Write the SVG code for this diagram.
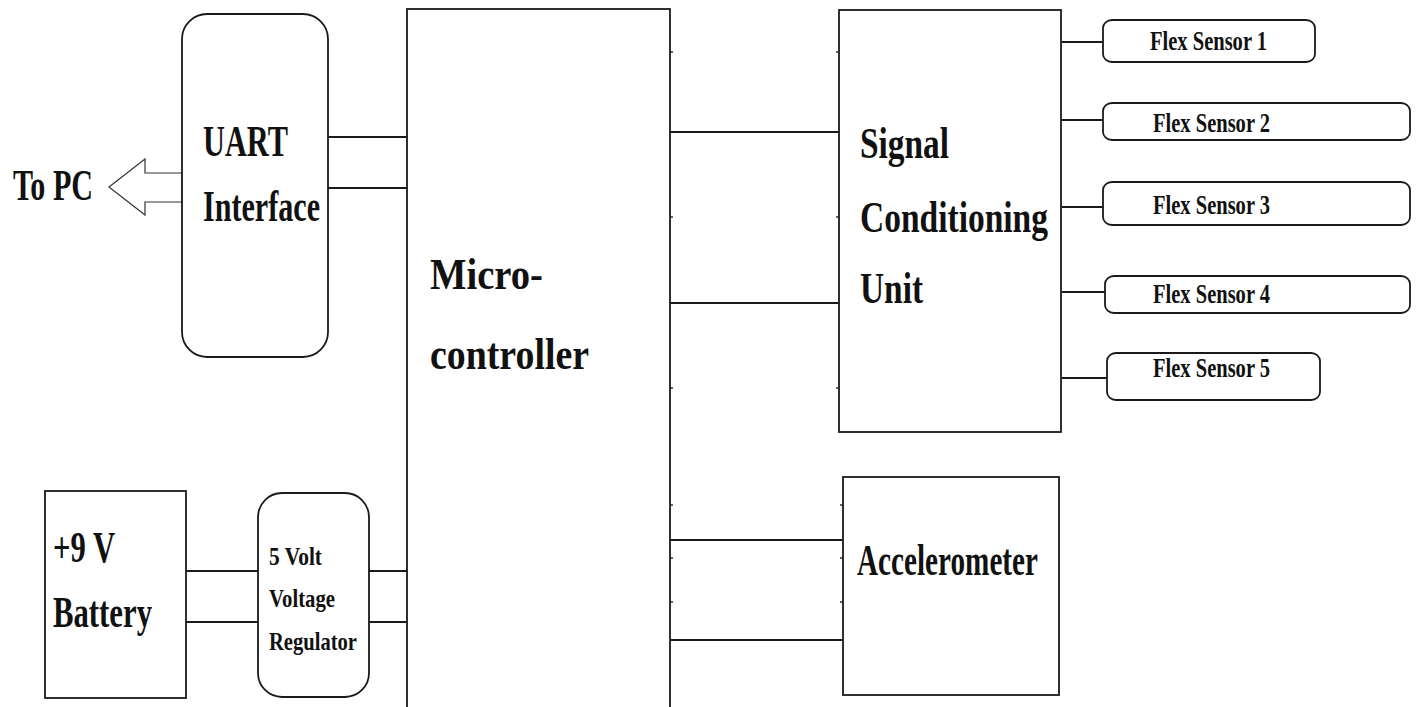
<svg xmlns="http://www.w3.org/2000/svg" width="1417" height="707" viewBox="0 0 1417 707">
<style>
.box{fill:#fff;stroke:#1a1a1a;stroke-width:1.8}
.ln{stroke:#1a1a1a;stroke-width:1.8;fill:none}
.tk{stroke:#333;stroke-width:1.5}
.t{font-family:"Liberation Serif","Times New Roman",serif;font-weight:bold;fill:#111}
.big{font-size:45px}
.mid{font-size:27px}
.sm{font-size:26px}
</style>
<rect width="1417" height="707" fill="#fff"/>
<g id="connectors">
<line class="ln" x1="328" y1="137" x2="407" y2="137"/>
<line class="ln" x1="328" y1="188" x2="407" y2="188"/>
<line class="ln" x1="186" y1="571" x2="258" y2="571"/>
<line class="ln" x1="186" y1="622" x2="258" y2="622"/>
<line class="ln" x1="369" y1="571" x2="407" y2="571"/>
<line class="ln" x1="369" y1="622" x2="407" y2="622"/>
<line class="ln" x1="670" y1="132" x2="839" y2="132"/>
<line class="ln" x1="670" y1="303" x2="839" y2="303"/>
<line class="ln" x1="670" y1="540" x2="843" y2="540"/>
<line class="ln" x1="670" y1="640" x2="843" y2="640"/>
<line class="ln" x1="1062" y1="42" x2="1103" y2="42"/>
<line class="ln" x1="1062" y1="120" x2="1103" y2="120"/>
<line class="ln" x1="1062" y1="207" x2="1103" y2="207"/>
<line class="ln" x1="1062" y1="292" x2="1105" y2="292"/>
<line class="ln" x1="1062" y1="378" x2="1107" y2="378"/>
<polygon id="to-pc-arrow" points="109,187 145,159 145,173 182,173 182,202 145,202 145,215" fill="#fff" stroke="#333" stroke-width="1.2"/>
<g id="ticks">
<line class="tk" x1="670" y1="52" x2="673" y2="52"/>
<line class="tk" x1="670" y1="217" x2="673" y2="217"/>
<line class="tk" x1="670" y1="388" x2="673" y2="388"/>
<line class="tk" x1="670" y1="505" x2="673" y2="505"/>
<line class="tk" x1="670" y1="558" x2="673" y2="558"/>
<line class="tk" x1="670" y1="602" x2="673" y2="602"/>
<line class="tk" x1="836" y1="52" x2="839" y2="52"/>
<line class="tk" x1="836" y1="217" x2="839" y2="217"/>
<line class="tk" x1="836" y1="388" x2="839" y2="388"/>
<line class="tk" x1="840" y1="505" x2="843" y2="505"/>
<line class="tk" x1="840" y1="558" x2="843" y2="558"/>
<line class="tk" x1="840" y1="602" x2="843" y2="602"/>
</g>
</g>
<g id="to-pc">
<text class="t big" x="13" y="200" textLength="80" lengthAdjust="spacingAndGlyphs">To PC</text>
</g>
<g id="uart">
<rect class="box" x="182" y="14" width="146" height="343" rx="25" ry="25"/>
<text class="t big" x="203" y="156" textLength="85" lengthAdjust="spacingAndGlyphs">UART</text>
<text class="t big" x="203" y="221" textLength="117" lengthAdjust="spacingAndGlyphs">Interface</text>
</g>
<g id="microcontroller">
<rect class="box" x="407" y="9" width="263" height="710"/>
<text class="t big" x="430" y="289" font-size="46" textLength="113" lengthAdjust="spacingAndGlyphs">Micro-</text>
<text class="t big" x="430" y="369" font-size="46" textLength="159" lengthAdjust="spacingAndGlyphs">controller</text>
</g>
<g id="signal-conditioning">
<rect class="box" x="839" y="10" width="222" height="422"/>
<text class="t big" x="860" y="158" textLength="89" lengthAdjust="spacingAndGlyphs">Signal</text>
<text class="t big" x="860" y="232" textLength="188" lengthAdjust="spacingAndGlyphs">Conditioning</text>
<text class="t big" x="860" y="303" textLength="63" lengthAdjust="spacingAndGlyphs">Unit</text>
</g>
<g id="accelerometer">
<rect class="box" x="843" y="477" width="216" height="218"/>
<text class="t big" x="857" y="575" textLength="181" lengthAdjust="spacingAndGlyphs">Accelerometer</text>
</g>
<g id="battery">
<rect class="box" x="45" y="491" width="141" height="207"/>
<text class="t big" x="53" y="562" textLength="62" lengthAdjust="spacingAndGlyphs">+9 V</text>
<text class="t big" x="53" y="627" textLength="99" lengthAdjust="spacingAndGlyphs">Battery</text>
</g>
<g id="regulator">
<rect class="box" x="258" y="493" width="111" height="204" rx="24" ry="24"/>
<text class="t sm" x="269" y="565" textLength="53" lengthAdjust="spacingAndGlyphs">5 Volt</text>
<text class="t sm" x="269" y="607" textLength="66" lengthAdjust="spacingAndGlyphs">Voltage</text>
<text class="t sm" x="269" y="650" textLength="88" lengthAdjust="spacingAndGlyphs">Regulator</text>
</g>
<g id="flex1">
<rect class="box" x="1103" y="20" width="212" height="42" rx="9" ry="8"/>
<text class="t mid" x="1150" y="50" textLength="117" lengthAdjust="spacingAndGlyphs">Flex Sensor 1</text>
</g>
<g id="flex2">
<rect class="box" x="1103" y="103" width="307" height="37" rx="9" ry="8"/>
<text class="t mid" x="1153" y="132" textLength="117" lengthAdjust="spacingAndGlyphs">Flex Sensor 2</text>
</g>
<g id="flex3">
<rect class="box" x="1103" y="182" width="307" height="43" rx="9" ry="8"/>
<text class="t mid" x="1153" y="214" textLength="117" lengthAdjust="spacingAndGlyphs">Flex Sensor 3</text>
</g>
<g id="flex4">
<rect class="box" x="1105" y="276" width="305" height="37" rx="9" ry="8"/>
<text class="t mid" x="1153" y="303" textLength="117" lengthAdjust="spacingAndGlyphs">Flex Sensor 4</text>
</g>
<g id="flex5">
<rect class="box" x="1107" y="353" width="213" height="47" rx="9" ry="8"/>
<text class="t mid" x="1153" y="377" textLength="117" lengthAdjust="spacingAndGlyphs">Flex Sensor 5</text>
</g>
</svg>
